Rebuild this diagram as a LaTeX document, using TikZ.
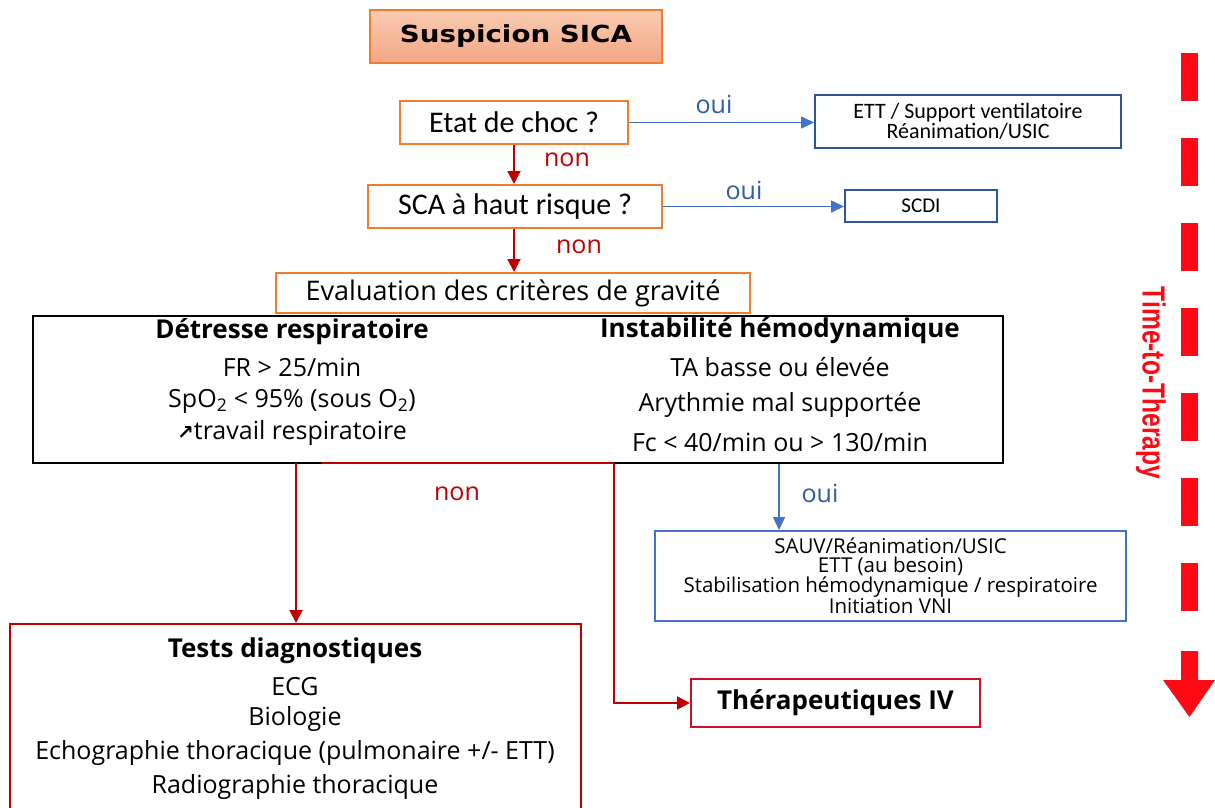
\documentclass[tikz,border=0pt]{standalone}
\usepackage{fontspec}
\setmainfont{Open Sans}
\newfontfamily\calfont{Carlito}
\newfontfamily\dejafont{DejaVu Sans}
\newfontfamily\arialfont{Liberation Sans}
\usetikzlibrary{arrows.meta,calc}
\definecolor{borange}{HTML}{ED7D31}
\definecolor{bdark}{HTML}{2F5597}
\definecolor{bmid}{HTML}{4472C4}
\definecolor{ouiblue}{HTML}{2E5DA8}
\definecolor{dred}{HTML}{C00000}
\definecolor{tred}{HTML}{D01020}
\definecolor{vred}{HTML}{FF0A14}
\definecolor{salmtop}{HTML}{F9CBB2}
\definecolor{salmbot}{HTML}{F4A683}
\newcommand\fs[2]{\fontsize{#1}{#2}\selectfont}
\tikzset{
  box/.style={draw, line width=2pt, inner sep=0pt, align=center},
  obox/.style={box, draw=borange},
  bbox/.style={box, draw=bdark},
  lbbox/.style={box, draw=bmid},
  rbox/.style={box, draw=dred},
  blarr/.style={draw=bmid, line width=1.6pt, -{Triangle[length=13pt,width=12pt]}},
  rdarr/.style={draw=dred, line width=2pt, -{Triangle[length=13pt,width=13pt]}},
  rdline/.style={draw=dred, line width=2pt},
  oui/.style={text=ouiblue, font=\fs{25}{30}},
  non/.style={text=dred, font=\fs{25}{30}},
  crit/.style={font=\fs{25}{30}},
  crith/.style={font=\bfseries\fs{26}{30}},
}
\begin{document}
\begin{tikzpicture}[x=1pt,y=-1pt]
  \clip (0,0) rectangle (1215,807);
  \fill[white] (0,0) rectangle (1215,807);

  % title
  \node[box, draw=borange, line width=1.5pt, top color=salmtop, bottom color=salmbot,
        minimum width=292pt, minimum height=53pt] (title) at (516,36.5)
        {\scalebox{1.18}[1]{\dejafont\bfseries\fs{23.5}{27}Suspicion SICA}};

  % decision boxes
  \node[obox, minimum width=228pt, minimum height=43pt, font=\calfont\fs{30}{36}] (choc) at (514,122.5) {Etat de choc ?};
  \node[bbox, minimum width=306pt, minimum height=53pt, font=\calfont\fs{22}{20}] (ett) at (968,121.5) {ETT / Support ventilatoire\\Réanimation/USIC};
  \node[obox, minimum width=294pt, minimum height=43pt, font=\calfont\fs{30}{36}] (sca) at (515,206.5) {SCA à haut risque ?};
  \node[bbox, minimum width=152pt, minimum height=32pt, font=\calfont\fs{21}{24}] (scdi) at (921,206) {SCDI};
  \node[obox, minimum width=474pt, minimum height=40pt, font=\fs{27}{32}] (eval) at (513,293) {Evaluation des critères de gravité};

  % criteria box
  \node[box, draw=black, line width=2.4pt, minimum width=970pt, minimum height=147pt] (crit) at (518,389.5) {};
  \node[crith] (h1) at (292,332) {Détresse respiratoire};
  \node[crit] (l1) at (292,367) {FR > 25/min};
  \node[crit] (l2) at (292,401) {SpO\textsubscript{2} < 95\% (sous O\textsubscript{2})};
  \node[crit] (l3) at (292,433) {{\dejafont\bfseries\fs{20}{30}\char"2197}travail respiratoire};
  \node[crith] (h2) at (780,331) {Instabilité hémodynamique};
  \node[crit] (r1) at (780,367) {TA basse ou élevée};
  \node[crit] (r2) at (780,405) {Arythmie mal supportée};
  \node[crit] (r3) at (780,442) {Fc < 40/min ou > 130/min};

  % outcome boxes
  \node[lbbox, minimum width=471pt, minimum height=90pt, font=\fs{20.5}{18.7}] (sauv) at (890.5,576)
    {SAUV/Réanimation/USIC\\ETT (au besoin)\\Stabilisation hémodynamique / respiratoire\\Initiation VNI};
  \node[rbox, minimum width=571pt, minimum height=200pt, anchor=north] (tests) at (295.5,623) {};
  \node[crith] (t0) at (295,651) {Tests diagnostiques};
  \node[crit] (t1) at (295,687) {ECG};
  \node[crit] (t2) at (295,719) {Biologie};
  \node[crit] (t3) at (295,753) {Echographie thoracique (pulmonaire +/- ETT)};
  \node[crit] (t4) at (295,787) {Radiographie thoracique};
  \node[box, draw=tred, minimum width=289pt, minimum height=48pt, font=\bfseries\fs{26}{30}] (ther) at (835.5,703) {Thérapeutiques IV};

  % connectors
  \draw[blarr] (choc.east) -- (ett.west |- choc.east);
  \node[oui] (o1) at (714,104) {oui};
  \draw[rdarr] (choc.south) -- (choc.south |- sca.north);
  \node[non] (n1) at (567,160) {non};
  \draw[blarr] (sca.east) -- (scdi.west |- sca.east);
  \node[oui] (o2) at (744,190) {oui};
  \draw[rdarr] (choc.south |- sca.south) -- (choc.south |- eval.north);
  \node[non] (n2) at (579,247) {non};

  \coordinate (ouix) at (779,0);
  \draw[blarr] (ouix |- crit.south) -- (ouix |- sauv.north);
  \node[oui] (o3) at (820,493) {oui};

  \coordinate (nl) at (296,463);
  \coordinate (nr) at (614,463);
  \draw[rdline] (322,463) -- (nr);
  \draw[rdarr] (nl) -- (nl |- tests.north);
  \draw[rdarr] (nr) |- (ther.west);
  \node[non] (n3) at (457,494) {non};

  % time-to-therapy arrow
  \foreach \k in {0,...,6}
    \fill[vred] (1181,53+85*\k) rectangle (1198,101+85*\k);
  \fill[vred] (1181,651) -- (1198,651) -- (1198,680) -- (1215,680) -- (1189.5,717)
              -- (1163,680) -- (1181,680) -- cycle;
  \node[rotate=-90, text=vred, inner sep=0pt] (ttt) at (1151,383)
    {\scalebox{0.77}[1]{\arialfont\bfseries\fs{32}{36}Time-to-Therapy}};
\end{tikzpicture}
\end{document}
